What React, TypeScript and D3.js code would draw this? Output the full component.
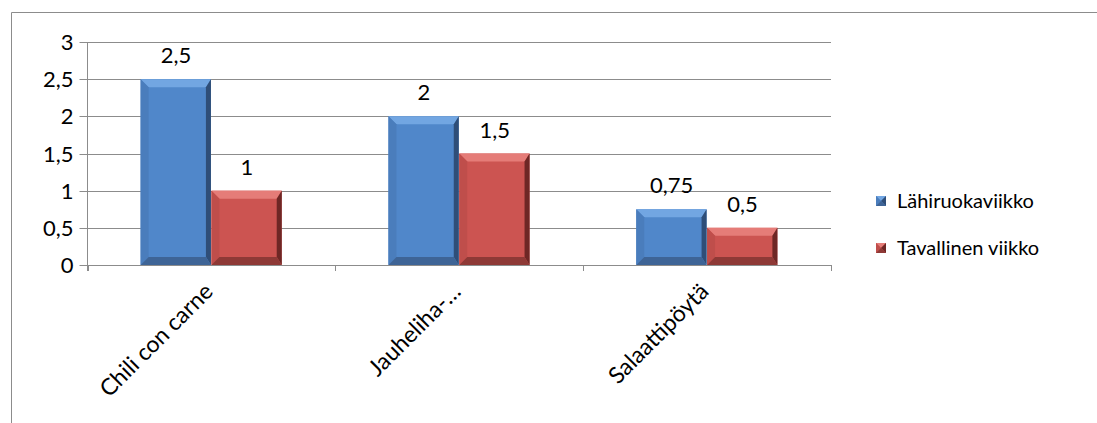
import React from "react";
import * as d3 from "d3";

const categories = ["Chili con carne", "Jauheliha-…", "Salaattipöytä"];
const seriesNames = ["Lähiruokaviikko", "Tavallinen viikko"];
const lahiruoka = [2.5, 2, 0.75];
const tavallinen = [1, 1.5, 0.5];
const valueLabels = [["2,5", "2", "0,75"], ["1", "1,5", "0,5"]];
const yTicks = [0, 0.5, 1, 1.5, 2, 2.5, 3];
const yTickLabels = ["0", "0,5", "1", "1,5", "2", "2,5", "3"];

const palettes = [
  { main: "#5087CA", top: "#72A6E2", left: "#4A7DBC", right: "#2F4E78", bottom: "#3E6496" },
  { main: "#CC5451", top: "#E57C78", left: "#BF4E4B", right: "#6E2725", bottom: "#8E3936" },
];

const FONT = "Lato, 'Open Sans', sans-serif";
const FS = 20;
const NUM_FS = 22;

function BevelBar({ x, y, w, h, p }: { x: number; y: number; w: number; h: number; p: any }) {
  const b = Math.min(8, h / 2, w / 2);
  const br = Math.min(5, h / 2, w / 2);
  const x1 = x + w, y1 = y + h;
  return (
    <g>
      <rect x={x} y={y} width={w} height={h} fill={p.main} />
      <polygon points={`${x},${y} ${x1},${y} ${x1 - br},${y + b} ${x + b},${y + b}`} fill={p.top} />
      <polygon points={`${x},${y} ${x + b},${y + b} ${x + b},${y1 - b} ${x},${y1}`} fill={p.left} />
      <polygon points={`${x1},${y} ${x1},${y1} ${x1 - br},${y1 - b} ${x1 - br},${y + b}`} fill={p.right} />
      <polygon points={`${x},${y1} ${x + b},${y1 - b} ${x1 - br},${y1 - b} ${x1},${y1}`} fill={p.bottom} />
    </g>
  );
}

export default function App() {
  const W = 1097, H = 423;
  const left = 87.5, right = 831, top = 42, bottom = 265;
  const y = d3.scaleLinear().domain([0, 3]).range([bottom, top]);
  const x = d3.scaleBand<string>().domain(categories).range([left, right]).paddingInner(0).paddingOuter(0);
  const cw = x.bandwidth();
  const barW = cw / 3.5;
  const data = [lahiruoka, tavallinen];

  return (
    <svg width={W} height={H} style={{ position: "absolute", left: 0, top: 0 }}>
      <rect x={0} y={0} width={W} height={H} fill="#fff" />
      <path d={`M11.5,${H + 5} V12.5 H${W + 5}`} fill="none" stroke="#8c8c8c" strokeWidth={1} />
      {yTicks.map((t, i) => (
        <g key={i}>
          <line x1={left - 8} x2={right} y1={Math.round(y(t)) + 0.5} y2={Math.round(y(t)) + 0.5} stroke="#8c8c8c" strokeWidth={1} />
          <text x={left - 14} y={y(t) + 8} textAnchor="end" fontFamily={FONT} fontSize={NUM_FS} fill="#000">
            {yTickLabels[i]}
          </text>
        </g>
      ))}
      <line x1={left} x2={left} y1={top} y2={bottom + 6} stroke="#8c8c8c" />
      {[0, 1, 2, 3].map((i) => (
        <line key={i} x1={Math.round(left + i * cw) + 0.5} x2={Math.round(left + i * cw) + 0.5} y1={bottom} y2={bottom + 6} stroke="#8c8c8c" />
      ))}
      {categories.map((c, ci) => {
        const cx = (x(c) as number) + cw / 2;
        return (
          <g key={c}>
            {data.map((s, si) => {
              const bx = cx - barW + si * barW;
              const by = y(s[ci]);
              return (
                <g key={si}>
                  <BevelBar x={bx} y={by} w={barW - 0.5} h={bottom - by} p={palettes[si]} />
                  <text x={bx + barW / 2} y={by - 16} textAnchor="middle" fontFamily={FONT} fontSize={NUM_FS} fill="#000">
                    {valueLabels[si][ci]}
                  </text>
                </g>
              );
            })}
            <text
              transform={`translate(${cx + 3},${bottom + 28}) rotate(-45)`}
              textAnchor="end"
              fontFamily={FONT}
              fontSize={23}
              fill="#000"
            >
              {c}
            </text>
          </g>
        );
      })}
      {seriesNames.map((n, i) => {
        const ly = 201 + i * 47;
        const p = palettes[i];
        return (
          <g key={n}>
            <BevelBar x={876} y={ly - 5} w={10} h={10} p={p} />
            <text x={897} y={ly + 7} fontFamily={FONT} fontSize={FS} fill="#000">
              {n}
            </text>
          </g>
        );
      })}
    </svg>
  );
}
